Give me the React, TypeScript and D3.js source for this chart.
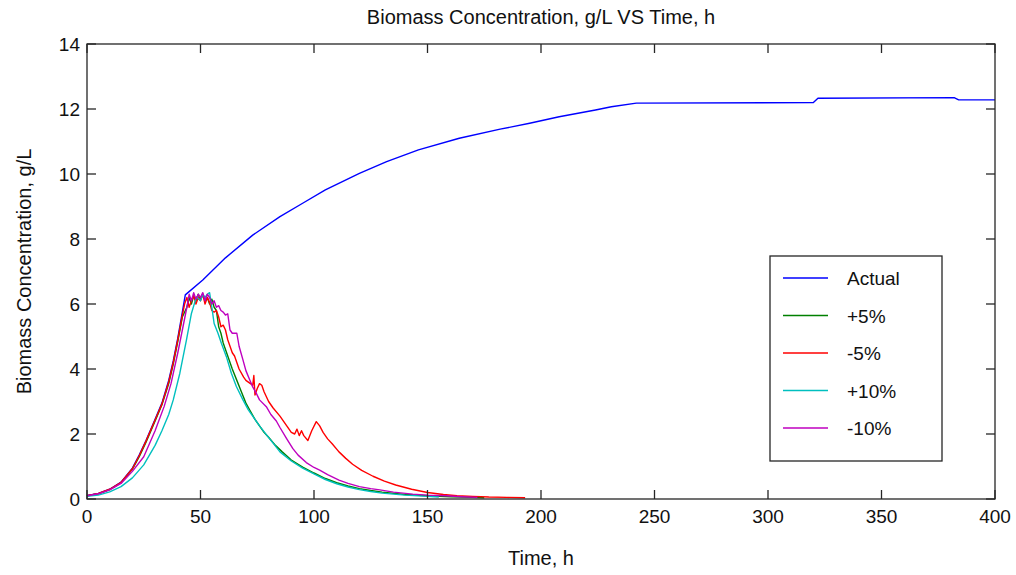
import React from "react";
import * as d3 from "d3";

// ---- data ----
const actualT = [0, 5, 10, 15, 20, 23, 26, 30, 33, 36, 38, 40, 42, 43.3, 51, 61, 73, 85, 95, 105, 120, 132, 146, 164, 182, 195, 208, 224, 231, 242, 320, 322, 382, 384, 400];
const actualV = [0.1, 0.17, 0.3, 0.52, 0.95, 1.35, 1.8, 2.45, 2.95, 3.65, 4.25, 4.95, 5.75, 6.28, 6.74, 7.42, 8.12, 8.69, 9.1, 9.51, 10.02, 10.38, 10.74, 11.1, 11.38, 11.56, 11.76, 11.97, 12.07, 12.18, 12.2, 12.33, 12.35, 12.28, 12.28];

const plus5T = [0, 5, 10, 15, 20, 23, 26, 30, 33, 36, 38, 40, 42, 44, 45, 46, 47, 48, 49, 50, 51, 52, 53, 54, 55, 56, 57, 58, 59, 60, 61, 62, 63, 64, 66, 68, 70, 72, 74, 76, 78, 80, 83, 86, 90, 95, 100, 105, 110, 115, 120, 125, 130, 140, 150, 160, 170, 175];
const plus5V = [0.1, 0.16, 0.29, 0.5, 0.92, 1.3, 1.75, 2.4, 2.9, 3.55, 4.15, 4.85, 5.6, 5.9, 6.2, 6.0, 6.25, 6.1, 6.3, 6.15, 6.3, 6.1, 6.2, 6.0, 6.15, 5.9, 5.8, 5.3, 5.1, 4.8, 4.6, 4.4, 4.2, 4.0, 3.65, 3.3, 2.95, 2.7, 2.45, 2.25, 2.05, 1.9, 1.65, 1.45, 1.2, 0.98, 0.8, 0.63, 0.5, 0.4, 0.32, 0.26, 0.21, 0.14, 0.1, 0.07, 0.05, 0.04];

const minus5T = [0, 5, 10, 15, 20, 23, 26, 30, 33, 36, 38, 40, 42, 43, 44, 45, 46, 47, 48, 49, 50, 51, 52, 53, 54, 55, 56, 57, 58, 59, 60, 61, 62, 63, 64, 65, 67, 69, 70, 72, 73, 73.5, 74, 75, 76, 77, 78, 80, 82, 85, 88, 90, 91.5, 92.5, 93.5, 94.5, 95.5, 97.3, 99, 101, 102.5, 104, 106, 108, 111, 114, 117, 121, 126, 131, 136, 143, 150, 157, 163, 170, 177, 185, 193];
const minus5V = [0.1, 0.17, 0.3, 0.51, 0.93, 1.33, 1.78, 2.43, 2.92, 3.6, 4.2, 4.9, 5.65, 6.0, 6.2, 5.9, 6.1, 6.25, 6.0, 6.2, 6.1, 6.3, 6.0, 6.2, 6.05, 5.8, 5.75, 5.8, 5.6, 5.3, 5.35, 5.2, 4.9, 4.7, 4.5, 4.4, 4.0, 3.75, 3.65, 3.55, 3.5, 3.8, 3.2, 3.4, 3.55, 3.5, 3.3, 3.0, 2.8, 2.55, 2.25, 2.05, 2.0, 2.15, 1.95, 2.1, 1.95, 1.8, 2.1, 2.38, 2.25, 2.05, 1.85, 1.7, 1.45, 1.25, 1.07, 0.88, 0.7, 0.55, 0.43, 0.3, 0.2, 0.14, 0.1, 0.08, 0.06, 0.05, 0.04];

const plus10T = [0, 5, 10, 15, 20, 25, 30, 33, 36, 38, 40.9, 43.8, 46, 48.2, 50, 51, 52, 53, 54, 55, 56, 57.7, 59.2, 61.4, 63.6, 65.8, 68.7, 71, 73, 76, 79, 82, 85, 90, 95, 100, 105, 110, 115, 120, 125, 130, 140, 150, 155];
const plus10V = [0.08, 0.12, 0.22, 0.38, 0.65, 1.05, 1.65, 2.1, 2.6, 3.05, 3.87, 4.89, 5.71, 6.22, 6.1, 6.3, 6.2, 6.3, 6.35, 5.9, 5.4, 5.1, 4.79, 4.38, 3.87, 3.46, 3.05, 2.75, 2.55, 2.25, 1.98, 1.72, 1.45, 1.17, 0.95, 0.77, 0.6, 0.47, 0.37, 0.29, 0.23, 0.18, 0.12, 0.08, 0.06];

const minus10T = [0, 5, 10, 15, 20, 25, 30, 34, 37, 40, 42, 44, 45, 46, 47, 48, 49, 50, 51, 52, 53, 54, 55, 56, 57, 58, 59, 60, 61, 62, 63, 64, 66, 67, 68.7, 70, 71.7, 73, 74.6, 76, 79, 81, 83.4, 85, 88, 90.7, 93, 96.6, 100, 102.5, 106, 111, 115, 120, 125, 129, 135, 143.5, 150, 158, 165, 172];
const minus10V = [0.1, 0.16, 0.28, 0.48, 0.85, 1.3, 2.1, 2.85, 3.55, 4.5, 5.2, 5.9, 6.3, 6.1, 6.35, 6.15, 6.3, 6.2, 6.35, 6.1, 6.3, 6.2, 6.0, 6.1, 5.9, 5.95, 5.8, 5.75, 5.66, 5.7, 5.2, 5.1, 5.1, 4.7, 4.28, 3.95, 3.66, 3.45, 3.25, 3.05, 2.84, 2.6, 2.4, 2.2, 1.85, 1.55, 1.35, 1.12, 0.97, 0.89, 0.75, 0.58, 0.48, 0.38, 0.32, 0.28, 0.21, 0.15, 0.12, 0.1, 0.07, 0.05];

const seriesNames = ["Actual", "+5%", "-5%", "+10%", "-10%"];
const seriesColors = ["#0000ff", "#008000", "#ff0000", "#00bfbf", "#bf00bf"];
const seriesT = [actualT, plus5T, minus5T, plus10T, minus10T];
const seriesV = [actualV, plus5V, minus5V, plus10V, minus10V];

const xTicks = [0, 50, 100, 150, 200, 250, 300, 350, 400];
const yTicks = [0, 2, 4, 6, 8, 10, 12, 14];

const titleText = "Biomass Concentration, g/L VS Time, h";
const xLabel = "Time, h";
const yLabel = "Biomass Concentration, g/L";

export default function App() {
  const W = 1016, H = 575;
  const left = 87, right = 995, top = 44, bottom = 499;
  const x = d3.scaleLinear().domain([0, 400]).range([left, right]);
  const y = d3.scaleLinear().domain([0, 14]).range([bottom, top]);
  const line = d3.line<[number, number]>().x(d => x(d[0])).y(d => y(d[1]));
  const font = "'Liberation Sans', Arial, sans-serif";
  const tickLen = 9;
  const axisColor = "#262626";

  const legLeft = 770, legTop = 256, legRight = 942, legBottom = 461;
  const legRow0 = 278, legStep = 37.5;

  return (
    <svg width={W} height={H} style={{ position: "absolute", left: 0, top: 0, background: "#fff" }} fontFamily={font}>
      <rect x={0} y={0} width={W} height={H} fill="#fff" />
      {/* data lines */}
      <g fill="none" strokeWidth={1.4} strokeLinejoin="round">
        {seriesT.map((ts, i) => (
          <path key={i} d={line(ts.map((t, j) => [t, seriesV[i][j]] as [number, number])) || ""} stroke={seriesColors[i]} />
        ))}
      </g>
      {/* box */}
      <rect x={left} y={top} width={right - left} height={bottom - top} fill="none" stroke={axisColor} strokeWidth={1.3} />
      {/* ticks */}
      <g stroke={axisColor} strokeWidth={1.3}>
        {xTicks.map(t => (
          <g key={"xt" + t}>
            <line x1={x(t)} x2={x(t)} y1={bottom} y2={bottom - tickLen} />
            <line x1={x(t)} x2={x(t)} y1={top} y2={top + tickLen} />
          </g>
        ))}
        {yTicks.map(t => (
          <g key={"yt" + t}>
            <line x1={left} x2={left + tickLen} y1={y(t)} y2={y(t)} />
            <line x1={right} x2={right - tickLen} y1={y(t)} y2={y(t)} />
          </g>
        ))}
      </g>
      <g fontSize={19} fill="#111">
        {xTicks.map(t => (
          <text key={"xl" + t} x={x(t)} y={523} textAnchor="middle">{t}</text>
        ))}
        {yTicks.map(t => (
          <text key={"yl" + t} x={80} y={y(t) + 7} textAnchor="end">{t}</text>
        ))}
      </g>
      <text x={(left + right) / 2} y={24} textAnchor="middle" fontSize={20} fill="#111">{titleText}</text>
      <text x={(left + right) / 2} y={565} textAnchor="middle" fontSize={20} fill="#111">{xLabel}</text>
      <text transform={`translate(31,${(top + bottom) / 2}) rotate(-90)`} textAnchor="middle" fontSize={20} fill="#111">{yLabel}</text>
      {/* legend */}
      <rect x={legLeft} y={legTop} width={legRight - legLeft} height={legBottom - legTop} fill="#fff" stroke={axisColor} strokeWidth={1.3} />
      {seriesNames.map((n, i) => (
        <g key={n}>
          <line x1={783} x2={828} y1={legRow0 + i * legStep} y2={legRow0 + i * legStep} stroke={seriesColors[i]} strokeWidth={1.5} />
          <text x={847} y={legRow0 + i * legStep + 7} fontSize={19} fill="#111">{n}</text>
        </g>
      ))}
    </svg>
  );
}
